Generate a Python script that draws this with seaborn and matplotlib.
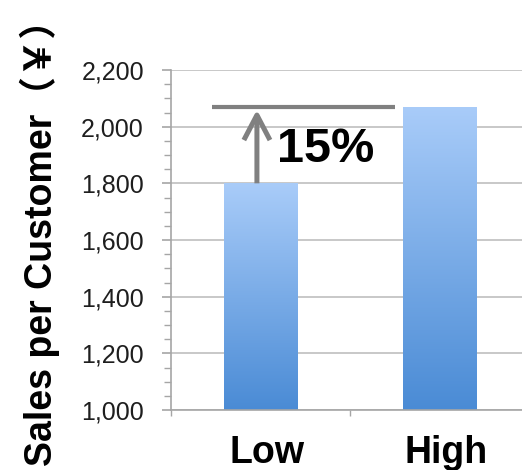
import numpy as np
import pandas as pd
import matplotlib
matplotlib.use("Agg")
import matplotlib.pyplot as plt
import matplotlib.transforms as mtransforms
from matplotlib.colors import LinearSegmentedColormap
from matplotlib.ticker import MultipleLocator, FixedLocator, FuncFormatter
import seaborn as sns

# Sales per customer for the two groups
categories = ["Low", "High"]
sales = [1800, 2070]
y_ticks = [1000, 1200, 1400, 1600, 1800, 2000, 2200]

df = pd.DataFrame({"group": categories, "sales": sales})

sns.set_theme(style="white")
plt.rcParams["font.family"] = ["Liberation Sans", "DejaVu Sans"]

fig = plt.figure(figsize=(5.22, 4.70), dpi=100)
ax = fig.add_axes([171 / 522, 60 / 470, 358 / 522, 340 / 470])

sns.barplot(data=df, x="group", y="sales", ax=ax, width=0.41,
            color="#7aaeea", edgecolor="none", saturation=1)

ax.set_ylim(y_ticks[0], y_ticks[-1])
ax.set_xlim(-0.5, 1.5)

# vertical blue gradient on each bar
cmap = LinearSegmentedColormap.from_list("bar", ["#4a8bd5", "#a9ccf9"])
grad = np.linspace(0, 1, 256).reshape(-1, 1)
for patch in ax.patches:
    x0, y0 = patch.get_x(), patch.get_y()
    w, h = patch.get_width(), patch.get_height()
    im = ax.imshow(grad, cmap=cmap, origin="lower", aspect="auto",
                   extent=[x0, x0 + w, y_ticks[0], y0 + h], zorder=2)
    im.set_clip_path(patch)
    patch.set_facecolor("none")

# axes styling
ax.yaxis.set_major_locator(FixedLocator(y_ticks))
ax.yaxis.set_minor_locator(MultipleLocator(50))
ax.yaxis.set_major_formatter(FuncFormatter(lambda v, p: f"{int(v):,}"))
ax.grid(axis="y", which="major", color="#c4c4c4", linewidth=1.3, zorder=0)
ax.set_axisbelow(True)
for side in ["top", "right"]:
    ax.spines[side].set_visible(False)
for side in ["left", "bottom"]:
    ax.spines[side].set_color("#a6a6a6")
    ax.spines[side].set_linewidth(1.2)
ax.tick_params(axis="y", which="major", left=True, length=6.5, width=1.2,
               color="#a6a6a6", labelsize=18, labelcolor="#1e1e1e", pad=13)
ax.tick_params(axis="y", which="minor", left=True, length=5, width=1.0,
               color="#a6a6a6")
ax.xaxis.set_minor_locator(FixedLocator([-0.5, 0.5]))
ax.tick_params(axis="x", which="major", bottom=False, labelsize=27, pad=12)
ax.tick_params(axis="x", which="minor", bottom=True, length=4, width=1.0,
               color="#a6a6a6")
shift = mtransforms.ScaledTranslation(0.07, 0, fig.dpi_scale_trans)
for lbl in ax.get_xticklabels():
    lbl.set_fontweight("bold")
    lbl.set_color("black")
    lbl.set_transform(lbl.get_transform() + shift)
ax.set_xlabel("")
ax.set_ylabel("")

# growth marker: reference line at the High level and arrow up from Low
low, high = sales
ax.plot([-0.27, 0.75], [high, high], color="#808080", linewidth=3,
        solid_capstyle="butt", zorder=4, clip_on=False)
ax.annotate("", xy=(-0.02, high - 10), xytext=(-0.02, low),
            arrowprops=dict(arrowstyle="->,head_length=0.9,head_width=0.47",
                            mutation_scale=20, color="#808080", linewidth=3.6,
                            shrinkA=0, shrinkB=0, joinstyle="round",
                            capstyle="butt"),
            zorder=4)
pct = round((high - low) / low * 100)
ax.text(0.09, 1920, f"{pct}%", fontsize=35, fontweight="bold", color="black",
        ha="left", va="center", zorder=5)

fig.text(40 / 522, 0.502, "Sales per Customer（￥）", rotation=90,
         ha="center", va="center", fontsize=27, fontweight="bold", color="black",
         family=["Liberation Sans", "Noto Sans CJK JP"])

fig.savefig("out.png", dpi=100)
